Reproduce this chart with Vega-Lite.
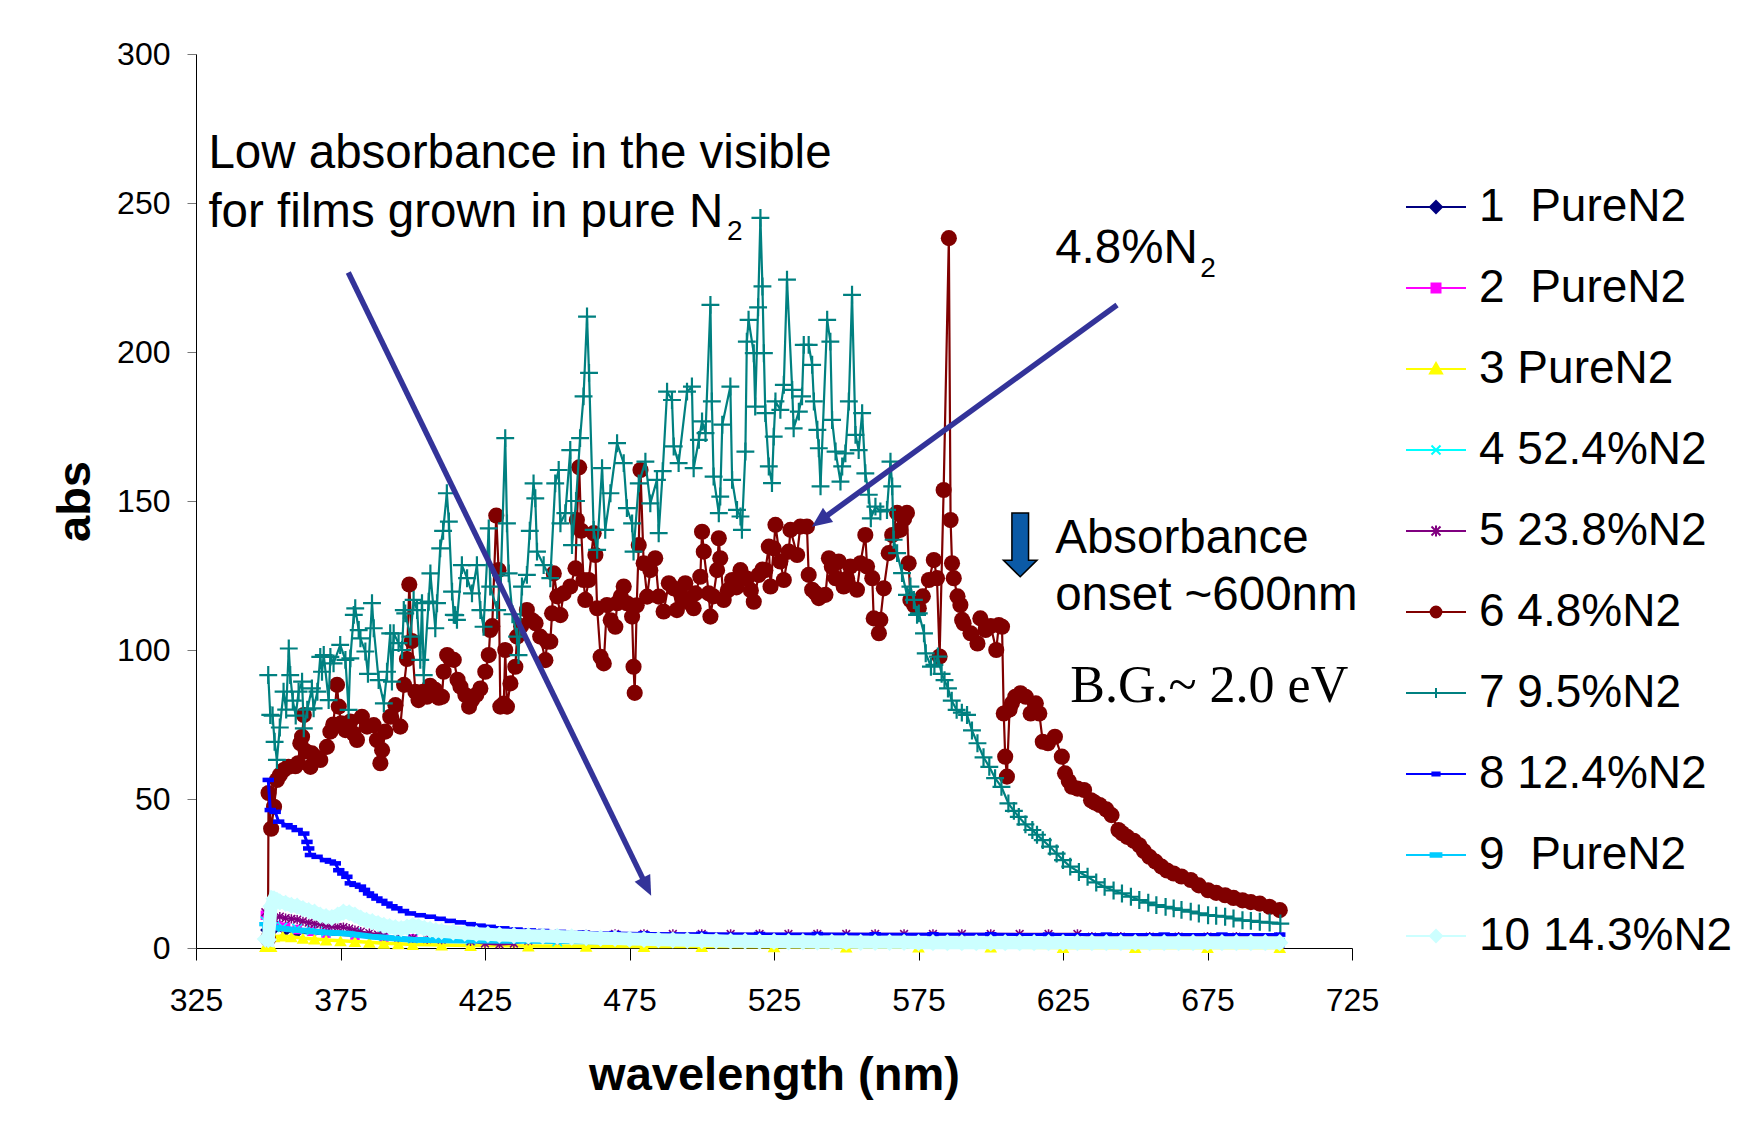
{
  "$schema": "https://vega.github.io/schema/vega-lite/v6.json",
  "width": 1156,
  "height": 894,
  "autosize": {"type": "none"},
  "padding": {"left": 196, "top": 54, "right": 408, "bottom": 192},
  "background": "white",
  "config": {"view": {"stroke": null}, "font": "Liberation Sans"},
  "datasets": {
    "s1": [{"w":349,"a":6},{"w":352,"a":6},{"w":356,"a":5.5},{"w":360,"a":5},{"w":370,"a":4.5},{"w":380,"a":4},{"w":400,"a":3.2},{"w":425,"a":2.8},{"w":450,"a":2.6},{"w":500,"a":2.5},{"w":550,"a":2.5},{"w":600,"a":2.5},{"w":650,"a":2.5},{"w":700,"a":2.6}],
    "s2": [{"w":349,"a":11},{"w":350,"a":9},{"w":351,"a":8},{"w":353,"a":7.5},{"w":356,"a":7},{"w":360,"a":6.2},{"w":365,"a":5.6},{"w":370,"a":5},{"w":380,"a":4.2},{"w":390,"a":3.5},{"w":400,"a":3},{"w":425,"a":2.4},{"w":450,"a":2},{"w":500,"a":1.8},{"w":550,"a":1.7},{"w":600,"a":1.6},{"w":650,"a":1.5},{"w":700,"a":1.5}],
    "s3": [{"w":349,"a":0.5},{"w":350,"a":0.6},{"w":351,"a":0.5},{"w":352,"a":3.8},{"w":355,"a":4},{"w":358,"a":3.8},{"w":362,"a":3.3},{"w":366,"a":3},{"w":370,"a":2.7},{"w":375,"a":2.4},{"w":380,"a":2.2},{"w":385,"a":1.9},{"w":390,"a":1.6},{"w":395,"a":1.4},{"w":400,"a":1.2},{"w":410,"a":1},{"w":420,"a":0.8},{"w":440,"a":0.7},{"w":460,"a":0.6},{"w":480,"a":0.5},{"w":500,"a":0.5},{"w":525,"a":0.4},{"w":550,"a":0.3},{"w":575,"a":0.3},{"w":600,"a":0.3},{"w":625,"a":0.2},{"w":650,"a":0.2},{"w":675,"a":0.2},{"w":700,"a":0.2}],
    "s4": [{"w":349,"a":9},{"w":350,"a":7},{"w":352,"a":7.5},{"w":355,"a":7},{"w":360,"a":6.5},{"w":365,"a":6},{"w":370,"a":5.5},{"w":380,"a":5},{"w":390,"a":4},{"w":400,"a":3.2},{"w":420,"a":2.5},{"w":450,"a":2.2},{"w":500,"a":2},{"w":550,"a":2},{"w":600,"a":2},{"w":650,"a":2},{"w":700,"a":1.8}],
    "s5": [{"w":349,"a":12},{"w":350,"a":7},{"w":351,"a":9},{"w":352,"a":10},{"w":354,"a":10.5},{"w":356,"a":10},{"w":358,"a":9.8},{"w":360,"a":9.5},{"w":362,"a":9},{"w":364,"a":8.5},{"w":366,"a":8.2},{"w":368,"a":8},{"w":370,"a":7.5},{"w":372,"a":7.3},{"w":374,"a":7},{"w":376,"a":7},{"w":378,"a":6.5},{"w":380,"a":6},{"w":382,"a":5.5},{"w":385,"a":5},{"w":388,"a":4.5},{"w":390,"a":4},{"w":395,"a":3.5},{"w":400,"a":3.2},{"w":405,"a":3},{"w":410,"a":2.8},{"w":420,"a":2.2},{"w":425,"a":1.5},{"w":430,"a":1.2},{"w":435,"a":1.5},{"w":440,"a":2.5},{"w":450,"a":3.8},{"w":460,"a":4.6},{"w":470,"a":4.7},{"w":480,"a":4.7},{"w":490,"a":4.7},{"w":500,"a":4.7},{"w":510,"a":4.7},{"w":520,"a":4.7},{"w":530,"a":4.7},{"w":540,"a":4.7},{"w":550,"a":4.7},{"w":560,"a":4.7},{"w":570,"a":4.7},{"w":580,"a":4.7},{"w":590,"a":4.7},{"w":600,"a":4.7},{"w":610,"a":4.7},{"w":620,"a":4.7},{"w":630,"a":4.7},{"w":635,"a":3.8},{"w":645,"a":3.8},{"w":655,"a":3.8},{"w":665,"a":3.8},{"w":675,"a":3.8},{"w":685,"a":3.8},{"w":700,"a":3.8}],
    "s6": [{"w":349.9,"a":3},{"w":350.1,"a":52},{"w":351,"a":40},{"w":352,"a":47.4},{"w":353,"a":56.4},{"w":354,"a":58},{"w":355.3,"a":59.7},{"w":357,"a":60.8},{"w":359.4,"a":61},{"w":360.3,"a":62},{"w":361.1,"a":68.7},{"w":361.7,"a":70.9},{"w":362.3,"a":78.2},{"w":363,"a":66},{"w":364.6,"a":60.8},{"w":365.1,"a":65.3},{"w":366.5,"a":64},{"w":368,"a":63.1},{"w":370.3,"a":67.5},{"w":371.5,"a":72.6},{"w":372.5,"a":75},{"w":373.8,"a":88.3},{"w":374.4,"a":81},{"w":375.2,"a":75.4},{"w":376.7,"a":73.1},{"w":378.4,"a":76},{"w":379.5,"a":72},{"w":380.7,"a":69.8},{"w":382.4,"a":77.6},{"w":384.2,"a":74.3},{"w":386.5,"a":74.8},{"w":387.6,"a":69.8},{"w":388.8,"a":62},{"w":389.4,"a":66.4},{"w":390.5,"a":72.6},{"w":392.2,"a":77.6},{"w":394,"a":81.5},{"w":395.7,"a":74.3},{"w":397,"a":88.3},{"w":398,"a":97},{"w":398.8,"a":122},{"w":399.7,"a":103},{"w":400.9,"a":86},{"w":402,"a":83.2},{"w":403.5,"a":86},{"w":404.9,"a":84.3},{"w":406,"a":88},{"w":407.8,"a":86.6},{"w":409,"a":84},{"w":410.1,"a":84.3},{"w":410.7,"a":92.7},{"w":411.9,"a":98.3},{"w":413,"a":97},{"w":414.2,"a":96.7},{"w":415.5,"a":90},{"w":416.5,"a":87.7},{"w":418.2,"a":84.9},{"w":419.5,"a":81},{"w":420.5,"a":83.2},{"w":422,"a":85},{"w":423.4,"a":87.1},{"w":425.1,"a":92.7},{"w":426.3,"a":98.3},{"w":426.8,"a":106.7},{"w":427.5,"a":108},{"w":428.9,"a":145.1},{"w":429.7,"a":126.8},{"w":430.3,"a":81},{"w":431.5,"a":82},{"w":432,"a":100},{"w":432.6,"a":81},{"w":433.8,"a":88.8},{"w":435.5,"a":94.4},{"w":436.1,"a":104.5},{"w":437.5,"a":108},{"w":439.5,"a":113.4},{"w":441.3,"a":110},{"w":442.5,"a":109},{"w":444.1,"a":104.5},{"w":445.9,"a":96.6},{"w":446.5,"a":102.8},{"w":447.6,"a":102.8},{"w":448.2,"a":112.3},{"w":448.8,"a":125.7},{"w":450,"a":118},{"w":451.1,"a":111.7},{"w":452.2,"a":119},{"w":454.5,"a":121.3},{"w":456.3,"a":127.4},{"w":456.8,"a":143.6},{"w":457.6,"a":161.3},{"w":458.3,"a":140},{"w":459.1,"a":123.5},{"w":459.7,"a":116.8},{"w":460.9,"a":123.5},{"w":462.6,"a":139.2},{"w":463.2,"a":131.9},{"w":463.8,"a":114},{"w":465,"a":97.7},{"w":466.1,"a":95.5},{"w":467.2,"a":115.1},{"w":468.5,"a":110},{"w":470.1,"a":107.8},{"w":470.7,"a":115.7},{"w":472,"a":118},{"w":473,"a":121.3},{"w":474.1,"a":115.7},{"w":475.9,"a":111.2},{"w":476.4,"a":94.4},{"w":476.8,"a":85.6},{"w":477.5,"a":115},{"w":478.2,"a":135.2},{"w":478.8,"a":160.4},{"w":479.9,"a":129.1},{"w":481.1,"a":117.9},{"w":482.2,"a":126.8},{"w":483.9,"a":130.8},{"w":485.1,"a":117.9},{"w":486.8,"a":112.9},{"w":488.6,"a":122.4},{"w":490.3,"a":120.7},{"w":491.4,"a":113.4},{"w":493,"a":118},{"w":494.3,"a":122.4},{"w":495.5,"a":116},{"w":497.2,"a":114},{"w":497.8,"a":119},{"w":499.5,"a":124.6},{"w":500.1,"a":139.7},{"w":500.7,"a":133},{"w":502.4,"a":119},{"w":503,"a":111.2},{"w":504,"a":118},{"w":505.3,"a":126.8},{"w":505.9,"a":137.5},{"w":506.4,"a":130.8},{"w":507.6,"a":116.8},{"w":509,"a":120},{"w":510.5,"a":123.5},{"w":512,"a":121},{"w":513.4,"a":126.8},{"w":515.6,"a":124},{"w":517,"a":120},{"w":518,"a":116.2},{"w":519.7,"a":125.2},{"w":521,"a":127},{"w":522,"a":126.8},{"w":523.2,"a":134.7},{"w":523.8,"a":121.3},{"w":524.9,"a":134.1},{"w":525.5,"a":142},{"w":527.2,"a":129.7},{"w":528.4,"a":123.5},{"w":530.1,"a":133},{"w":530.7,"a":140.3},{"w":533,"a":131.9},{"w":534.1,"a":141.4},{"w":536.4,"a":141.4},{"w":537,"a":125.2},{"w":538.2,"a":120.2},{"w":539.5,"a":119},{"w":540.5,"a":117.4},{"w":542.8,"a":118.5},{"w":544,"a":130.8},{"w":545,"a":128},{"w":546.3,"a":124.1},{"w":547.4,"a":129.7},{"w":549.1,"a":121.3},{"w":550.3,"a":124},{"w":551.4,"a":128},{"w":553.7,"a":120.2},{"w":554.9,"a":129.1},{"w":556.6,"a":138.6},{"w":557.2,"a":128},{"w":559,"a":124.1},{"w":559.5,"a":110.6},{"w":561.3,"a":105.6},{"w":561.8,"a":110.1},{"w":563,"a":120.7},{"w":564.7,"a":132.5},{"w":565.9,"a":138.6},{"w":567.6,"a":146},{"w":568.7,"a":140.3},{"w":570,"a":144},{"w":571,"a":146},{"w":571.6,"a":129.1},{"w":572.2,"a":116.8},{"w":573.5,"a":115},{"w":575.1,"a":114},{"w":576.5,"a":118},{"w":578.6,"a":123.5},{"w":580.3,"a":130.2},{"w":581.4,"a":124.1},{"w":582.3,"a":97.8},{"w":583.7,"a":153.7},{"w":585.5,"a":238.2},{"w":586.1,"a":143.6},{"w":586.6,"a":129.1},{"w":587.2,"a":124.1},{"w":588.5,"a":118},{"w":589.5,"a":115.1},{"w":590.1,"a":110.1},{"w":590.6,"a":109},{"w":593,"a":105.6},{"w":595.4,"a":102.2},{"w":596.4,"a":110.6},{"w":598.2,"a":106.7},{"w":600,"a":108},{"w":601.9,"a":100},{"w":602.8,"a":108.4},{"w":603.9,"a":107.8},{"w":604.5,"a":78.7},{"w":605,"a":64.2},{"w":605.6,"a":57.5},{"w":606.5,"a":80},{"w":607.3,"a":82.1},{"w":608.5,"a":84.3},{"w":610.3,"a":85.5},{"w":612.1,"a":84.3},{"w":613.8,"a":78.7},{"w":615.6,"a":82.1},{"w":616.8,"a":78.7},{"w":618,"a":69.2},{"w":619.8,"a":68.7},{"w":622.2,"a":70.9},{"w":624.6,"a":64.2},{"w":625.7,"a":58.6},{"w":627,"a":56},{"w":628.1,"a":54.1},{"w":630,"a":53.5},{"w":632.3,"a":53},{"w":634.7,"a":49.6},{"w":636,"a":48.8},{"w":637.7,"a":48},{"w":640,"a":46.5},{"w":641.8,"a":44.6},{"w":644.2,"a":39.6},{"w":645.5,"a":38.5},{"w":647.2,"a":37.3},{"w":649.5,"a":36},{"w":651.4,"a":34.5},{"w":653,"a":32.5},{"w":654.9,"a":30.6},{"w":657,"a":29},{"w":659.1,"a":27.3},{"w":661,"a":26},{"w":663.3,"a":25},{"w":666,"a":24},{"w":669.2,"a":22.8},{"w":672,"a":21},{"w":675.2,"a":19.4},{"w":678,"a":18.5},{"w":681.1,"a":17.7},{"w":684,"a":16.8},{"w":687.1,"a":16},{"w":690,"a":15.4},{"w":693.1,"a":14.9},{"w":696.5,"a":13.8},{"w":700,"a":12.7}],
    "s7": [{"w":350,"a":91.6},{"w":350.7,"a":78.2},{"w":351.5,"a":78},{"w":352.2,"a":69.2},{"w":353,"a":63.1},{"w":354,"a":74},{"w":355.3,"a":86},{"w":356.2,"a":80},{"w":357.1,"a":100.5},{"w":357.6,"a":91.6},{"w":358.5,"a":83},{"w":359.5,"a":78},{"w":360.5,"a":86},{"w":361.7,"a":89.4},{"w":362.3,"a":73.7},{"w":363.5,"a":80},{"w":365.1,"a":87.1},{"w":365.7,"a":80.4},{"w":367,"a":86},{"w":368,"a":97.7},{"w":368.6,"a":92.7},{"w":369.2,"a":98.3},{"w":370.9,"a":83.2},{"w":371.5,"a":97.7},{"w":372.6,"a":95.5},{"w":374.9,"a":101.7},{"w":376.7,"a":96.7},{"w":377.8,"a":79.9},{"w":378.4,"a":97.2},{"w":379.6,"a":111.8},{"w":380.1,"a":114},{"w":381.3,"a":106.7},{"w":381.9,"a":103.9},{"w":383.6,"a":99.5},{"w":384.5,"a":92},{"w":385.9,"a":115.7},{"w":386.5,"a":107.3},{"w":388.2,"a":89.9},{"w":390,"a":82.1},{"w":391.1,"a":92.7},{"w":392.2,"a":105.6},{"w":392.8,"a":89.4},{"w":393.4,"a":105.6},{"w":395.1,"a":102.3},{"w":396.3,"a":100},{"w":396.9,"a":113.4},{"w":397.4,"a":112.3},{"w":399.2,"a":104.5},{"w":400.3,"a":116.8},{"w":401.5,"a":113.4},{"w":402.6,"a":96.7},{"w":403.2,"a":115.7},{"w":403.8,"a":91.6},{"w":405.5,"a":116.2},{"w":406.1,"a":125.7},{"w":407.8,"a":107.3},{"w":408.4,"a":115.7},{"w":409.5,"a":134.1},{"w":410.5,"a":140},{"w":411.8,"a":152.6},{"w":412.5,"a":143.1},{"w":413.6,"a":119.6},{"w":414.2,"a":111.8},{"w":414.7,"a":111.7},{"w":415.3,"a":110.1},{"w":417,"a":128.5},{"w":418.8,"a":124.1},{"w":420.5,"a":119},{"w":422.2,"a":128.5},{"w":423.4,"a":113.4},{"w":424.5,"a":107.8},{"w":426.3,"a":140.8},{"w":426.8,"a":121.3},{"w":429.2,"a":113.4},{"w":430.5,"a":125},{"w":432,"a":171.1},{"w":432.6,"a":142.5},{"w":433.2,"a":125.7},{"w":434.5,"a":112},{"w":436.1,"a":104.5},{"w":436.6,"a":98.3},{"w":437.8,"a":121.3},{"w":439.5,"a":125.2},{"w":440.5,"a":140},{"w":441.8,"a":155.9},{"w":442.4,"a":150.9},{"w":443,"a":133},{"w":445.3,"a":128.5},{"w":447.6,"a":124.1},{"w":449.3,"a":155.9},{"w":450.5,"a":160.4},{"w":451.1,"a":142.5},{"w":452.8,"a":145.9},{"w":454.5,"a":167.1},{"w":455.1,"a":135.2},{"w":456.5,"a":150},{"w":457.9,"a":171.1},{"w":459.1,"a":185.1},{"w":460.3,"a":211.9},{"w":461,"a":193},{"w":462.6,"a":140.3},{"w":463.8,"a":133.6},{"w":465.5,"a":161},{"w":466.6,"a":140.3},{"w":468.4,"a":152.6},{"w":470.7,"a":169.4},{"w":473,"a":162.7},{"w":474.1,"a":147.6},{"w":475.9,"a":142.5},{"w":476.4,"a":133},{"w":478.2,"a":155.9},{"w":480.5,"a":163.2},{"w":482.2,"a":149.2},{"w":484.5,"a":157.1},{"w":485.1,"a":139.2},{"w":486.5,"a":160},{"w":488,"a":186.7},{"w":489.7,"a":183.9},{"w":490.3,"a":168.3},{"w":492,"a":162.7},{"w":494.9,"a":186.7},{"w":496.6,"a":188.4},{"w":497.2,"a":161},{"w":499,"a":170.5},{"w":500.1,"a":176.7},{"w":501.3,"a":172.8},{"w":503,"a":215.8},{"w":503.5,"a":183.4},{"w":504.1,"a":158.2},{"w":505.9,"a":145.9},{"w":506.4,"a":151.5},{"w":507.1,"a":175.6},{"w":509.9,"a":188.4},{"w":510.5,"a":157.1},{"w":512.2,"a":147},{"w":513.4,"a":144.8},{"w":513.9,"a":140.3},{"w":515.1,"a":166.6},{"w":515.6,"a":203.5},{"w":516.2,"a":210.8},{"w":518,"a":199.6},{"w":518.5,"a":181.7},{"w":519.5,"a":215},{"w":520.3,"a":245},{"w":521,"a":222},{"w":521.5,"a":199.6},{"w":522,"a":179.5},{"w":523.2,"a":161.6},{"w":524.3,"a":156},{"w":524.9,"a":171.6},{"w":525.5,"a":183.4},{"w":527.2,"a":180.6},{"w":528.4,"a":189},{"w":529.5,"a":224.3},{"w":531.3,"a":187.3},{"w":531.8,"a":174.4},{"w":533.6,"a":180},{"w":534.7,"a":185.1},{"w":535.3,"a":202.4},{"w":537,"a":202.4},{"w":538.2,"a":195.7},{"w":538.8,"a":183.4},{"w":540,"a":173.9},{"w":540.5,"a":167.7},{"w":541.1,"a":154.9},{"w":543.4,"a":210.8},{"w":544.5,"a":203.5},{"w":545.1,"a":177.2},{"w":546.3,"a":166.6},{"w":548,"a":156.5},{"w":548.6,"a":161.6},{"w":549.7,"a":166},{"w":550.9,"a":183.4},{"w":552,"a":219.2},{"w":553.2,"a":172.2},{"w":554.3,"a":167.1},{"w":555.5,"a":179.5},{"w":556.6,"a":159.3},{"w":557.8,"a":152.1},{"w":558.5,"a":144.2},{"w":560.1,"a":148.1},{"w":561.8,"a":146.5},{"w":564.1,"a":147},{"w":565.3,"a":163.2},{"w":565.9,"a":154.9},{"w":566.4,"a":137},{"w":567.6,"a":132.5},{"w":569.3,"a":125.8},{"w":571,"a":118.5},{"w":572.2,"a":121.3},{"w":573.4,"a":116.8},{"w":574.5,"a":111.8},{"w":575.1,"a":112.3},{"w":576.9,"a":105.6},{"w":577.5,"a":98.9},{"w":579.3,"a":94.4},{"w":580.5,"a":95},{"w":581.7,"a":97.8},{"w":583,"a":92},{"w":584,"a":89.9},{"w":585.2,"a":87.1},{"w":586.5,"a":83},{"w":588.2,"a":79.9},{"w":590,"a":79},{"w":591.8,"a":78.2},{"w":593.5,"a":73},{"w":595.4,"a":68.7},{"w":597.5,"a":64},{"w":599.5,"a":60.8},{"w":601.5,"a":57},{"w":603.7,"a":54.1},{"w":606.1,"a":48.5},{"w":608,"a":46},{"w":609.7,"a":44},{"w":612,"a":41.5},{"w":614.4,"a":39.6},{"w":616,"a":38},{"w":618,"a":36.2},{"w":620.5,"a":34},{"w":622.8,"a":31.7},{"w":625,"a":29.5},{"w":627.5,"a":27.3},{"w":630.5,"a":25.5},{"w":633.5,"a":23.9},{"w":636.5,"a":22},{"w":639.4,"a":20.5},{"w":642.5,"a":19.3},{"w":645.4,"a":18.3},{"w":648.5,"a":17.2},{"w":651.4,"a":16.1},{"w":654.5,"a":15.2},{"w":657.3,"a":14.4},{"w":660.5,"a":13.8},{"w":663.3,"a":13.3},{"w":666,"a":12.8},{"w":669.2,"a":12.2},{"w":672,"a":11.6},{"w":675.2,"a":11},{"w":678,"a":10.8},{"w":681.1,"a":10.5},{"w":684,"a":9.9},{"w":687.1,"a":9.3},{"w":690,"a":9.1},{"w":693.1,"a":8.8},{"w":696.5,"a":8.5},{"w":700.2,"a":8.2}],
    "s8": [{"w":350,"a":56.4},{"w":350.7,"a":46.3},{"w":352.4,"a":45.7},{"w":353.6,"a":42.4},{"w":356.5,"a":41.2},{"w":358,"a":40.5},{"w":360,"a":39.6},{"w":362.3,"a":38.4},{"w":363.4,"a":35.6},{"w":364,"a":33.4},{"w":364.6,"a":31.2},{"w":366.9,"a":30.6},{"w":369.8,"a":29.5},{"w":371.5,"a":29},{"w":373.2,"a":28.4},{"w":374.4,"a":26.1},{"w":375.8,"a":25},{"w":377.2,"a":23.9},{"w":378.4,"a":21.7},{"w":380,"a":21.2},{"w":381.9,"a":20.6},{"w":383.3,"a":19.5},{"w":384.7,"a":18.3},{"w":386,"a":17.5},{"w":387.6,"a":16.6},{"w":389.3,"a":15.8},{"w":391.1,"a":14.9},{"w":392.8,"a":14},{"w":394.5,"a":13.3},{"w":396.8,"a":12.4},{"w":399.2,"a":11.6},{"w":402.6,"a":11},{"w":406.1,"a":10.5},{"w":409.5,"a":9.8},{"w":413,"a":9.1},{"w":416.5,"a":8.6},{"w":419.9,"a":8},{"w":423.3,"a":7.5},{"w":426.8,"a":7.1},{"w":431.5,"a":6.6},{"w":436.1,"a":6.2},{"w":440.7,"a":5.9},{"w":445.3,"a":5.7},{"w":451.1,"a":5.4},{"w":459,"a":5.2},{"w":470,"a":5},{"w":480,"a":4.9},{"w":500,"a":4.8},{"w":520,"a":4.7},{"w":540,"a":4.7},{"w":560,"a":4.6},{"w":580,"a":4.6},{"w":600,"a":4.6},{"w":620,"a":4.5},{"w":640,"a":4.5},{"w":660,"a":4.5},{"w":680,"a":4.5},{"w":700,"a":4.5}],
    "s9": [{"w":349,"a":8},{"w":350,"a":7},{"w":352,"a":7},{"w":355,"a":6.5},{"w":358,"a":6.2},{"w":360,"a":6},{"w":363,"a":5.8},{"w":366,"a":5.5},{"w":370,"a":5.2},{"w":374,"a":5},{"w":378,"a":4.8},{"w":382,"a":4.3},{"w":386,"a":3.8},{"w":390,"a":3.5},{"w":395,"a":3.1},{"w":400,"a":2.8},{"w":410,"a":2.6},{"w":420,"a":2.5},{"w":440,"a":2.4},{"w":460,"a":2.3},{"w":500,"a":2.2},{"w":550,"a":2.1},{"w":600,"a":2},{"w":650,"a":2},{"w":700,"a":2}],
    "s10": [{"w":349,"a":3},{"w":350,"a":2.8},{"w":351,"a":14},{"w":352,"a":16.5},{"w":353,"a":16},{"w":354,"a":15.5},{"w":356,"a":15},{"w":358,"a":14.3},{"w":360,"a":14},{"w":362,"a":13.2},{"w":364,"a":12.5},{"w":366,"a":12},{"w":368,"a":11},{"w":370,"a":10.5},{"w":372,"a":10.2},{"w":374,"a":11},{"w":376,"a":12},{"w":378,"a":11.8},{"w":380,"a":11},{"w":382,"a":10},{"w":384,"a":9.3},{"w":386,"a":8.8},{"w":388,"a":8.2},{"w":390,"a":7.6},{"w":392,"a":7.2},{"w":394,"a":6.8},{"w":396,"a":6.5},{"w":398,"a":7},{"w":400,"a":7.5},{"w":402,"a":7.2},{"w":404,"a":6.6},{"w":406,"a":6.2},{"w":408,"a":5.8},{"w":410,"a":5.6},{"w":414,"a":5.3},{"w":418,"a":5},{"w":422,"a":4.8},{"w":426,"a":4.6},{"w":430,"a":4.4},{"w":435,"a":4.2},{"w":440,"a":4.1},{"w":445,"a":4},{"w":450,"a":3.9},{"w":455,"a":3.7},{"w":460,"a":3.5},{"w":465,"a":3.3},{"w":470,"a":3.2},{"w":475,"a":3},{"w":480,"a":2.9},{"w":485,"a":2.8},{"w":490,"a":2.7},{"w":495,"a":2.6},{"w":500,"a":2.5},{"w":505,"a":2.4},{"w":510,"a":2.3},{"w":515,"a":2.3},{"w":520,"a":2.2},{"w":525,"a":2.2},{"w":530,"a":2.1},{"w":535,"a":2.1},{"w":540,"a":2},{"w":545,"a":2},{"w":550,"a":2},{"w":555,"a":1.9},{"w":560,"a":1.9},{"w":565,"a":1.9},{"w":570,"a":1.9},{"w":575,"a":1.8},{"w":580,"a":1.8},{"w":585,"a":1.8},{"w":590,"a":1.8},{"w":595,"a":1.8},{"w":600,"a":1.8},{"w":605,"a":1.8},{"w":610,"a":1.8},{"w":615,"a":1.8},{"w":620,"a":1.8},{"w":625,"a":1.8},{"w":630,"a":1.8},{"w":635,"a":1.8},{"w":640,"a":1.8},{"w":645,"a":1.8},{"w":650,"a":1.8},{"w":655,"a":1.8},{"w":660,"a":1.8},{"w":665,"a":1.8},{"w":670,"a":1.8},{"w":675,"a":1.8},{"w":680,"a":1.8},{"w":685,"a":1.8},{"w":690,"a":1.8},{"w":695,"a":1.8},{"w":700,"a":1.8}],
    "leg": [{"s":"1\u00a0 PureN2","w":700,"a":2},{"s":"2\u00a0 PureN2","w":700,"a":2},{"s":"3 PureN2","w":700,"a":2},{"s":"4 52.4%N2","w":700,"a":2},{"s":"5 23.8%N2","w":700,"a":2},{"s":"6 4.8%N2","w":700,"a":2},{"s":"7 9.5%N2","w":700,"a":2},{"s":"8 12.4%N2","w":700,"a":2},{"s":"9\u00a0 PureN2","w":700,"a":2},{"s":"10 14.3%N2","w":700,"a":2}],
    "arrows": [{"w":377.7,"a":226.7,"w2":480.7,"a2":21.1},{"w":643.7,"a":215.8,"w2":541.5,"a2":143.8}],
    "tip1": [{"w":482.5,"a":17.5}],
    "tip2": [{"w":538.1,"a":141.4}],
    "block": [{"w":610.2,"a":135.2}],
    "notes": [{"w":329.3,"a":261.7,"t":"Low absorbance in the visible"},{"w":329.3,"a":242.1,"t":"for films grown in pure N"},{"w":622.3,"a":229.8,"t":"4.8%N"},{"w":622.3,"a":132.4,"t":"Absorbance"},{"w":622.3,"a":113.4,"t":"onset ~600nm"}],
    "subs": [{"w":508.7,"a":237.6,"t":"2"},{"w":672.5,"a":225.3,"t":"2"}],
    "bg": [{"w":627.5,"a":82.6,"t":"B.G.~ 2.0 eV"}]
  },
  "encoding": {
    "x": {"field": "w", "type": "quantitative",
      "scale": {"domain": [325, 725], "nice": false, "zero": false},
      "axis": {"values": [325, 375, 425, 475, 525, 575, 625, 675, 725], "title": "wavelength (nm)", "grid": false,
        "domainColor": "black", "domainWidth": 1, "tickColor": "black", "tickSize": 12, "tickWidth": 1,
        "labelFont": "Liberation Sans", "labelFontSize": 32, "labelColor": "black", "labelPadding": 25, "labelFlush": false, "labelOverlap": false,
        "titleFont": "Liberation Sans", "titleFontSize": 47, "titleFontWeight": "bold", "titleColor": "black", "titlePadding": 36}},
    "y": {"field": "a", "type": "quantitative",
      "scale": {"domain": [0, 300], "nice": false, "zero": true},
      "axis": {"values": [0, 50, 100, 150, 200, 250, 300], "title": "abs", "grid": false,
        "domainColor": "black", "domainWidth": 1, "tickColor": "#777777", "tickSize": 9, "tickWidth": 1,
        "labelFont": "Liberation Sans", "labelFontSize": 32, "labelColor": "black", "labelPadding": 17, "labelFlush": false, "labelOverlap": false,
        "titleFont": "Liberation Sans", "titleFontSize": 47, "titleFontWeight": "bold", "titleColor": "black", "titlePadding": 17}}
  },
  "layer": [
    {"data": {"name": "s1"}, "mark": {"type": "line", "color": "#000080", "strokeWidth": 1.5}},
    {"data": {"name": "s1"}, "mark": {"type": "point", "shape": "diamond", "size": 110, "filled": true, "color": "#000080", "opacity": 1}},
    {"data": {"name": "s2"}, "mark": {"type": "line", "color": "#FF00FF", "strokeWidth": 1.5}},
    {"data": {"name": "s2"}, "mark": {"type": "point", "shape": "square", "size": 90, "filled": true, "color": "#FF00FF", "opacity": 1}},
    {"data": {"name": "s3"}, "mark": {"type": "line", "color": "#FFFF00", "strokeWidth": 3.5}},
    {"data": {"name": "s3"}, "mark": {"type": "point", "shape": "triangle-up", "size": 160, "filled": true, "color": "#FFFF00", "opacity": 1}},
    {"data": {"name": "s4"}, "mark": {"type": "line", "color": "#00FFFF", "strokeWidth": 2}},
    {"data": {"name": "s4"}, "mark": {"type": "point", "shape": "M-1,-1L1,1M-1,1L1,-1", "size": 90, "filled": false, "color": "#00FFFF", "strokeWidth": 1.5, "opacity": 1}},
    {"data": {"name": "s5"}, "mark": {"type": "line", "color": "#800080", "strokeWidth": 2.5}},
    {"data": {"name": "s5"}, "mark": {"type": "point", "shape": "M-1,-1L1,1M-1,1L1,-1M0,-1.2V1.2", "size": 60, "filled": false, "color": "#800080", "strokeWidth": 1.5, "opacity": 1}},
    {"data": {"name": "s6"}, "mark": {"type": "line", "color": "#800000", "strokeWidth": 2.2}},
    {"data": {"name": "s6"}, "mark": {"type": "point", "shape": "circle", "size": 260, "filled": true, "color": "#800000", "opacity": 1}},
    {"data": {"name": "s7"}, "mark": {"type": "line", "color": "#008080", "strokeWidth": 2.2}},
    {"data": {"name": "s7"}, "mark": {"type": "point", "shape": "M-1,0H1M0,-1V1", "size": 320, "filled": false, "color": "#008080", "strokeWidth": 2.2, "opacity": 1}},
    {"data": {"name": "s8"}, "mark": {"type": "line", "color": "#0000FF", "strokeWidth": 3}},
    {"data": {"name": "s8"}, "mark": {"type": "point", "shape": "M-1,-0.4H1V0.4H-1Z", "size": 130, "filled": true, "color": "#0000FF", "opacity": 1}},
    {"data": {"name": "s9"}, "mark": {"type": "line", "color": "#00CCFF", "strokeWidth": 6}},
    {"data": {"name": "s9"}, "mark": {"type": "point", "shape": "M-1,-0.35H1V0.35H-1Z", "size": 150, "filled": true, "color": "#00CCFF", "opacity": 1}},
    {"data": {"name": "s10"}, "mark": {"type": "line", "color": "#CCFFFF", "strokeWidth": 13}},
    {"data": {"name": "s10"}, "mark": {"type": "point", "shape": "diamond", "size": 300, "filled": true, "color": "#CCFFFF", "opacity": 1}},
    {"data": {"name": "leg"}, "mark": {"type": "point", "filled": true, "opacity": 0},
      "encoding": {
        "color": {"field": "s", "type": "nominal",
          "scale": {"domain": ["1\u00a0 PureN2","2\u00a0 PureN2","3 PureN2","4 52.4%N2","5 23.8%N2","6 4.8%N2","7 9.5%N2","8 12.4%N2","9\u00a0 PureN2","10 14.3%N2"],
                    "range": ["#000080","#FF00FF","#FFFF00","#00FFFF","#800080","#800000","#008080","#0000FF","#00CCFF","#CCFFFF"]},
          "legend": {"title": null, "orient": "none", "legendX": 1209, "legendY": 122, "symbolSize": 3600, "symbolStrokeWidth": 2, "symbolOpacity": 1,
            "labelFont": "Liberation Sans", "labelFontSize": 46, "labelColor": "black", "labelOffset": 12, "labelLimit": 0, "rowPadding": 27, "padding": 0,
            "encode": {"symbols": {"update": {"fill": {"scale": "color", "field": "value"}, "stroke": {"scale": "color", "field": "value"}, "opacity": {"value": 1}, "strokeWidth": {"value": 2}}}}}},
        "shape": {"field": "s", "type": "nominal",
          "scale": {"domain": ["1\u00a0 PureN2","2\u00a0 PureN2","3 PureN2","4 52.4%N2","5 23.8%N2","6 4.8%N2","7 9.5%N2","8 12.4%N2","9\u00a0 PureN2","10 14.3%N2"],
                    "range": ["M-1,0H1M0,-0.2L0.2,0L0,0.2L-0.2,0Z","M-1,0H1M-0.15,-0.15H0.15V0.15H-0.15Z","M-1,0H1M0,-0.2L0.2,0.15H-0.2Z","M-1,0H1M-0.15,-0.15L0.15,0.15M-0.15,0.15L0.15,-0.15","M-1,0H1M-0.15,-0.15L0.15,0.15M-0.15,0.15L0.15,-0.15M0,-0.18V0.18","M-1,0H1M-0.18,0A0.18,0.18 0 1,0 0.18,0A0.18,0.18 0 1,0 -0.18,0Z","M-1,0H1M0,-0.17V0.17","M-1,0H1M-0.12,-0.05H0.12V0.05H-0.12Z","M-1,0H1M-0.18,-0.06H0.18V0.06H-0.18Z","M-1,0H1M0,-0.2L0.2,0L0,0.2L-0.2,0Z"]},
          "legend": {"title": null, "orient": "none", "legendX": 1209, "legendY": 122, "symbolSize": 3600, "symbolStrokeWidth": 2, "symbolOpacity": 1,
            "labelFont": "Liberation Sans", "labelFontSize": 46, "labelColor": "black", "labelOffset": 12, "labelLimit": 0, "rowPadding": 27, "padding": 0,
            "encode": {"symbols": {"update": {"fill": {"scale": "color", "field": "value"}, "stroke": {"scale": "color", "field": "value"}, "opacity": {"value": 1}, "strokeWidth": {"value": 2}}}}}}
      }},
    {"data": {"name": "arrows"}, "mark": {"type": "rule", "color": "#333399", "strokeWidth": 5.5}, "encoding": {"x2": {"field": "w2"}, "y2": {"field": "a2"}}},
    {"data": {"name": "tip1"}, "mark": {"type": "point", "shape": "M0,0L0.65,1.5L-0.65,1.5Z", "size": 711, "filled": true, "color": "#333399", "angle": 154, "opacity": 1}},
    {"data": {"name": "tip2"}, "mark": {"type": "point", "shape": "M0,0L0.65,1.5L-0.65,1.5Z", "size": 711, "filled": true, "color": "#333399", "angle": 234, "opacity": 1}},
    {"data": {"name": "block"}, "mark": {"type": "point", "shape": "M-0.26,-1L0.26,-1L0.26,0.47L0.525,0.47L0,0.99L-0.525,0.47L-0.26,0.47Z", "size": 4096, "filled": true, "fill": "#0B5AA6", "stroke": "black", "strokeWidth": 1.5, "opacity": 1}},
    {"data": {"name": "notes"}, "mark": {"type": "text", "align": "left", "baseline": "alphabetic", "font": "Liberation Sans", "fontSize": 47.5, "color": "black"}, "encoding": {"text": {"field": "t"}}},
    {"data": {"name": "subs"}, "mark": {"type": "text", "align": "left", "baseline": "alphabetic", "font": "Liberation Sans", "fontSize": 28, "color": "black"}, "encoding": {"text": {"field": "t"}}},
    {"data": {"name": "bg"}, "mark": {"type": "text", "align": "left", "baseline": "alphabetic", "font": "Liberation Serif", "fontSize": 52, "color": "black"}, "encoding": {"text": {"field": "t"}}}
  ]
}
